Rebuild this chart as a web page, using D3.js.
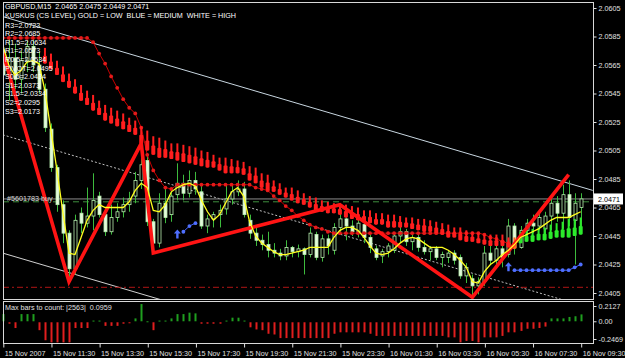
<!DOCTYPE html>
<html>
<head>
<meta charset="utf-8">
<script src="https://cdnjs.cloudflare.com/ajax/libs/d3/7.8.5/d3.min.js"></script>
<style>
html, body { margin: 0; padding: 0; background: #000; overflow: hidden; }
text { font-family: "Liberation Sans", Arial, sans-serif; white-space: pre; }
</style>
</head>
<body>
<div id="chart-area"></div>
<script>
// ---- data (bar index 0 = 15 Nov 09:30, M15) ----
const open = [2.0575,2.0558,2.0570,2.0555,2.0568,2.0578,2.0565,2.0548,2.0520,2.0493,2.0467,2.0447,2.0422,2.0461,2.0454,2.0459,2.0473,2.0460,2.0448,2.0458,
  2.0462,2.0467,2.0473,2.0484,2.0498,2.0455,2.0440,2.0468,2.0460,2.0474,2.0482,2.0475,2.0484,2.0476,2.0452,2.0457,2.0460,2.0464,2.0471,2.0476,
  2.0478,2.0456,2.0447,2.0442,2.0439,2.0435,2.0433,2.0431,2.0437,2.0434,2.0436,2.0432,2.0446,2.0430,2.0443,2.0435,2.0451,2.0457,2.0452,2.0448,
  2.0453,2.0444,2.0436,2.0431,2.0434,2.0435,2.0445,2.0448,2.0441,2.0444,2.0437,2.0434,2.0436,2.0430,2.0430,2.0433,2.0430,2.0417,2.0415,2.0410,
  2.0413,2.0433,2.0428,2.0436,2.0432,2.0452,2.0437,2.0449,2.0454,2.0452,2.0450,2.0459,2.0468,2.0461,2.0474,2.0456,2.0465]
const high = [2.0598,2.0585,2.0580,2.0575,2.0582,2.0585,2.0574,2.0552,2.0524,2.0495,2.0470,2.0449,2.0460,2.0465,2.0479,2.0489,2.0476,2.0463,2.0467,2.0468,
  2.0472,2.0476,2.0490,2.0510,2.0503,2.0457,2.0475,2.0479,2.0476,2.0496,2.0488,2.0491,2.0490,2.0480,2.0460,2.0462,2.0467,2.0481,2.0481,2.0484,
  2.0483,2.0460,2.0452,2.0446,2.0448,2.0440,2.0436,2.0442,2.0438,2.0439,2.0437,2.0451,2.0448,2.0446,2.0446,2.0454,2.0467,2.0458,2.0456,2.0458,
  2.0455,2.0446,2.0438,2.0436,2.0440,2.0447,2.0452,2.0450,2.0447,2.0446,2.0442,2.0438,2.0438,2.0434,2.0435,2.0435,2.0432,2.0426,2.0418,2.0416,
  2.0438,2.0440,2.0442,2.0438,2.0457,2.0454,2.0452,2.0457,2.0460,2.0462,2.0462,2.0472,2.0473,2.0481,2.0484,2.0475,2.0475]
const low = [2.0545,2.0540,2.0548,2.0545,2.0560,2.0560,2.0545,2.0518,2.0490,2.0462,2.0440,2.0413,2.0418,2.0447,2.0451,2.0449,2.0458,2.0445,2.0446,2.0455,
  2.0458,2.0462,2.0468,2.0478,2.0452,2.0433,2.0437,2.0454,2.0455,2.0470,2.0470,2.0472,2.0474,2.0450,2.0447,2.0451,2.0451,2.0460,2.0467,2.0473,
  2.0458,2.0443,2.0438,2.0435,2.0430,2.0430,2.0428,2.0428,2.0430,2.0430,2.0418,2.0430,2.0428,2.0427,2.0432,2.0432,2.0446,2.0442,2.0445,2.0444,
  2.0440,2.0433,2.0428,2.0426,2.0430,2.0433,2.0440,2.0438,2.0435,2.0434,2.0432,2.0428,2.0428,2.0423,2.0426,2.0425,2.0415,2.0412,2.0402,2.0404,
  2.0410,2.0425,2.0422,2.0423,2.0430,2.0432,2.0436,2.0444,2.0447,2.0449,2.0446,2.0449,2.0455,2.0450,2.0452,2.0425,2.0449]
const close = [2.0558,2.0570,2.0555,2.0568,2.0578,2.0565,2.0548,2.0521,2.0493,2.0467,2.0447,2.0422,2.0456,2.0454,2.0459,2.0470,2.0460,2.0448,2.0458,2.0462,
  2.0467,2.0471,2.0484,2.0495,2.0455,2.0440,2.0468,2.0458,2.0473,2.0482,2.0475,2.0484,2.0478,2.0452,2.0457,2.0460,2.0463,2.0471,2.0476,2.0478,
  2.0460,2.0447,2.0442,2.0439,2.0435,2.0433,2.0431,2.0437,2.0434,2.0436,2.0432,2.0447,2.0430,2.0443,2.0438,2.0451,2.0457,2.0452,2.0448,2.0454,
  2.0444,2.0437,2.0430,2.0434,2.0438,2.0445,2.0448,2.0441,2.0444,2.0437,2.0434,2.0436,2.0430,2.0432,2.0433,2.0428,2.0417,2.0423,2.0410,2.0413,
  2.0433,2.0428,2.0436,2.0430,2.0452,2.0437,2.0449,2.0454,2.0452,2.0458,2.0459,2.0468,2.0461,2.0474,2.0458,2.0468,2.0471]

// yellow moving average
const maValues = [2.0579,2.0565,2.0558,2.0561,2.0567,2.0568,2.0566,2.0547,2.0519,2.0491,2.0461,2.0433,2.0432,2.0444,2.0456,2.0463,2.0467,2.0465,2.0465,2.0465,
  2.0465,2.0469,2.0477,2.0482,2.0479,2.0463,2.0462,2.0467,2.0476,2.0479,2.0481,2.0482,2.0480,2.0470,2.0462,2.0456,2.0460,2.0468,2.0476,2.0479,
  2.0473,2.0455,2.0445,2.0440,2.0437,2.0434,2.0432,2.0432,2.0433,2.0434,2.0435,2.0437,2.0437,2.0437,2.0437,2.0444,2.0449,2.0451,2.0451,2.0449,
  2.0444,2.0438,2.0433,2.0432,2.0433,2.0436,2.0440,2.0443,2.0444,2.0443,2.0440,2.0437,2.0437,2.0437,2.0435,2.0432,2.0428,2.0423,2.0413,2.0412,
  2.0420,2.0425,2.0428,2.0432,2.0435,2.0439,2.0444,2.0446,2.0448,2.0450,2.0453,2.0456,2.0458,2.0458,2.0458,2.0460,2.0462]

// KUSKUS level bars (top / bottom), state dn / x / up
const kusTop = [null,null,null,null,null,null,null,2.0577,2.0573,2.0568,2.0564,2.0559,2.0555,2.0551,2.0547,2.0544,2.0540,2.0537,2.0535,2.0533,
  2.0531,2.0528,2.0526,2.0522,2.0519,2.0515,2.0514,2.0512,2.0510,2.0510,2.0509,2.0508,2.0507,2.0505,2.0504,2.0502,2.0500,2.0500,2.0499,2.0498,
  2.0497,2.0494,2.0493,2.0489,2.0488,2.0484,2.0482,2.0479,2.0479,2.0477,2.0475,2.0473,2.0472,2.0470,2.0469,2.0468,2.0468,2.0467,2.0466,2.0465,
  2.0463,2.0463,2.0461,2.0461,2.0460,2.0460,2.0459,2.0458,2.0458,2.0457,2.0457,2.0456,2.0455,2.0454,2.0453,2.0451,2.0451,2.0449,2.0448,2.0447,
  2.0446,2.0446,2.0446,2.0446,2.0444,2.0444,2.0448,2.0449,2.0450,2.0451,2.0451,2.0453,2.0454,2.0455,2.0457,2.0457,2.0458]
const kusBot = [null,null,null,null,null,null,null,2.0566,2.0562,2.0558,2.0553,2.0549,2.0545,2.0540,2.0537,2.0533,2.0530,2.0526,2.0524,2.0522,
  2.0520,2.0518,2.0516,2.0510,2.0505,2.0502,2.0500,2.0500,2.0499,2.0498,2.0497,2.0496,2.0495,2.0494,2.0493,2.0493,2.0491,2.0489,2.0489,2.0489,
  2.0488,2.0484,2.0482,2.0479,2.0477,2.0476,2.0474,2.0472,2.0470,2.0468,2.0467,2.0465,2.0463,2.0462,2.0461,2.0461,2.0460,2.0458,2.0457,2.0456,
  2.0455,2.0454,2.0453,2.0453,2.0451,2.0451,2.0451,2.0451,2.0450,2.0449,2.0448,2.0448,2.0447,2.0446,2.0444,2.0444,2.0442,2.0441,2.0441,2.0440,
  2.0439,2.0438,2.0438,2.0438,2.0437,2.0436,2.0440,2.0441,2.0441,2.0442,2.0442,2.0443,2.0444,2.0444,2.0444,2.0445,2.0446]
const kusState = d3.range(97).map(i => i < 85 ? "dn" : (i === 85 ? "x" : "up"))

// red trailing-stop dots and blue dots
const redStop = [2.0584,2.0584,2.0584,2.0584,2.0584,2.0584,2.0584,2.0584,2.0584,2.0584,2.0584,2.0584,2.0584,2.0584,2.0584,2.0581,2.0573,2.0566,2.0557,2.0549,
  2.0541,2.0535,2.0531,2.0521,2.0502,2.0491,2.0484,2.0479,2.0478,2.0481,2.0481,2.0481,2.0481,2.0481,2.0481,2.0481,2.0481,2.0481,2.0481,2.0481,
  2.0481,2.0481,2.0479,2.0478,2.0477,2.0473,2.0470,2.0466,2.0463,2.0459,2.0456,2.0453,2.0451,2.0450,2.0448,2.0447,2.0447,2.0447,2.0447,2.0447,
  2.0447,2.0447,2.0447,2.0447,2.0447,2.0447,2.0447,2.0447,2.0447,2.0447,2.0447,2.0447,2.0447,2.0447,2.0447,2.0447,2.0447,2.0447,2.0447,2.0447,
  2.0446,2.0444,2.0443,2.0441,2.0440]
const blueStopA = [[29, 2.0446], [30, 2.0448], [31, 2.0452], [32, 2.0454]]
const blueStopB = [[84, 2.0423], [85, 2.0421], [86, 2.0421], [87, 2.0421], [88, 2.0421], [89, 2.0421], [90, 2.0421],
  [91, 2.0421], [92, 2.0421], [93, 2.0421], [94, 2.0421], [95, 2.0423], [96, 2.0425]]

// zigzag and channel
const zigzag = [[0, 2.0574], [11, 2.0413], [23, 2.0510], [25, 2.0433], [56, 2.0467], [78, 2.0402], [94, 2.0488]]
const channelTop = [[0, 2.0599], [98, 2.0477]]
const channelMid = [[0, 2.0516], [98, 2.0394]]
const channelBot = [[0, 2.0433], [98, 2.0311]]
const bidPrice = 2.0471
const orderPrice = 2.0469
const stopPrice = 2.0409

// sub window histogram
const subVals = [0.10,-0.02,-0.08,0.10,0.10,0.10,-0.11,-0.25,-0.28,-0.28,-0.28,-0.28,-0.08,-0.08,-0.08,0.01,0.01,-0.05,-0.05,-0.05,
  -0.02,-0.01,0.04,0.24,0,-0.11,0.01,0.01,0.04,0.10,0.10,0.12,0.11,-0.02,-0.02,-0.02,-0.02,0.01,0.05,0.05,
  0.01,-0.07,-0.10,-0.11,-0.16,-0.17,-0.22,-0.22,-0.22,-0.22,-0.22,-0.22,-0.22,-0.22,-0.22,-0.16,-0.14,-0.14,-0.14,-0.14,
  -0.14,-0.16,-0.19,-0.19,-0.19,-0.19,-0.19,-0.19,-0.19,-0.19,-0.19,-0.19,-0.19,-0.19,-0.21,-0.21,-0.28,-0.26,-0.26,-0.28,
  -0.21,-0.21,-0.21,-0.19,-0.14,-0.14,-0.12,-0.09,-0.09,-0.08,-0.06,0.04,0.04,0.04,0.06,0.07,0.0959]

// axes and labels
const priceTicks = [2.0605, 2.0585, 2.0565, 2.0545, 2.0525, 2.0505, 2.0485, 2.0465, 2.0445, 2.0425, 2.0405]
const subTicks = [0.2127, 0, -0.2469]
const timeLabels = ["15 Nov 2007", "15 Nov 11:30", "15 Nov 13:30", "15 Nov 15:30", "15 Nov 17:30", "15 Nov 19:30", "15 Nov 21:30",
  "15 Nov 23:30", "16 Nov 01:30", "16 Nov 03:30", "16 Nov 05:30", "16 Nov 07:30", "16 Nov 09:30"]
const pivotNames = ["R3", "R2", "R1.5", "R1", "R0.5", "PIVOT", "S0.5", "S1", "S1.5", "S2", "S3"]
const pivotValues = ["2.0723", "2.0685", "2.0634", "2.0573", "2.0534", "2.0495", "2.0434", "2.0373", "2.0334", "2.0295", "2.0173"]
const titleText = "GBPUSD,M15  2.0465 2.0475 2.0449 2.0471"
const legendText = "KUSKUS (CS LEVEL) GOLD = LOW  BLUE = MEDIUM  WHITE = HIGH"
const subTitle = "Max bars to count: |2563|  0.0959"
const orderText = "#5601783 buy"

// ---- layout ----
const WIDTH = 625, HEIGHT = 358
const PLOT = { LEFT: 3, RIGHT: 593, TOP: 2, BOTTOM: 299 }
const SUB = { TOP: 301, BOTTOM: 343 }
const FONT = 7.2

const svg = d3.select("#chart-area").append("svg")
  .attr("width", WIDTH)
  .attr("height", HEIGHT)

svg.append("rect").attr("width", WIDTH).attr("height", HEIGHT).attr("fill", "#000")

// Scales
const x = d3.scaleLinear().domain([0, 96]).range([2.8, 580.7])
const y = d3.scaleLinear().domain([2.0405, 2.0605]).range([293, 8])
const ySub = d3.scaleLinear().domain([-0.2469, 0.2127]).range([339, 306])

svg.append("clipPath").attr("id", "clipMain")
  .append("rect")
  .attr("x", PLOT.LEFT).attr("y", PLOT.TOP)
  .attr("width", PLOT.RIGHT - PLOT.LEFT).attr("height", PLOT.BOTTOM - PLOT.TOP)

const g = svg.append("g").attr("clip-path", "url(#clipMain)")

// channel lines
const pline = d3.line().x(d => x(d[0])).y(d => y(d[1]))
g.append("path").attr("d", pline(channelTop)).attr("fill", "none")
  .attr("stroke", "#c8d6e0").attr("stroke-width", 1)
g.append("path").attr("d", pline(channelBot)).attr("fill", "none")
  .attr("stroke", "#d0d0d0").attr("stroke-width", 1)
g.append("path").attr("d", pline(channelMid)).attr("fill", "none")
  .attr("stroke", "#c0c0c0").attr("stroke-width", 1).attr("stroke-dasharray", "2,2")

// horizontal lines
g.append("line").attr("x1", PLOT.LEFT).attr("x2", PLOT.RIGHT)
  .attr("y1", y(bidPrice)).attr("y2", y(bidPrice))
  .attr("stroke", "#8c8c8c").attr("stroke-width", 1)
g.append("line").attr("x1", PLOT.LEFT).attr("x2", PLOT.RIGHT)
  .attr("y1", y(orderPrice)).attr("y2", y(orderPrice))
  .attr("stroke", "#3f8f3f").attr("stroke-width", 1).attr("stroke-dasharray", "6,4")
g.append("line").attr("x1", PLOT.LEFT).attr("x2", PLOT.RIGHT)
  .attr("y1", y(stopPrice)).attr("y2", y(stopPrice))
  .attr("stroke", "#b01515").attr("stroke-width", 1).attr("stroke-dasharray", "6,3,2,3")

// candles
const bars = d3.range(open.length).map(i => ({ i, o: open[i], h: high[i], l: low[i], c: close[i] }))
const candle = g.append("g").selectAll("g").data(bars).enter().append("g")
candle.append("line")
  .attr("x1", d => Math.round(x(d.i)) + 0.5).attr("x2", d => Math.round(x(d.i)) + 0.5)
  .attr("y1", d => y(d.h)).attr("y2", d => y(d.l))
  .attr("stroke", "#3dbb3d").attr("stroke-width", 1)
candle.append("rect")
  .attr("x", d => Math.round(x(d.i)) - 1)
  .attr("y", d => y(Math.max(d.o, d.c)))
  .attr("width", 3)
  .attr("height", d => Math.max(1, Math.abs(y(d.o) - y(d.c))))
  .attr("fill", d => d.c >= d.o ? "#000" : "#e4f8dc")
  .attr("stroke", "#b8eeb0").attr("stroke-width", 0.8)

// pivot text
svg.append("text").attr("x", 5).attr("y", 9).attr("fill", "#fff").attr("font-size", FONT).text(titleText)
svg.append("text").attr("x", 5).attr("y", 18).attr("fill", "#fff").attr("font-size", FONT).text(legendText)
svg.append("g").selectAll("text").data(pivotNames).enter().append("text")
  .attr("x", 5)
  .attr("y", (d, k) => 27.5 + k * 8.6)
  .attr("fill", "#fff").attr("font-size", FONT)
  .text((d, k) => d + "=" + pivotValues[k])

// red stop line
const stopPts = redStop.map((v, i) => [i, v])
g.append("path").attr("d", pline(stopPts)).attr("fill", "none")
  .attr("stroke", "#c80000").attr("stroke-width", 1)
g.append("g").selectAll("circle").data(stopPts).enter().append("circle")
  .attr("cx", d => x(d[0])).attr("cy", d => y(d[1])).attr("r", 1.9)
  .attr("fill", "#e51a1a")

// kuskus thermometers
const kus = d3.range(kusTop.length).filter(i => kusTop[i] !== null)
  .map(i => ({ i, t: kusTop[i], b: kusBot[i], s: kusState[i] }))
const kusColor = { dn: "#ff1e1e", x: "#ff6a1a", up: "#2bea2b" }
const therm = g.append("g").selectAll("g").data(kus).enter().append("g")
therm.append("rect")
  .attr("x", d => x(d.i) - 1).attr("y", d => y(d.t))
  .attr("width", 2).attr("height", d => y(d.b) - y(d.t))
  .attr("fill", d => kusColor[d.s])
therm.append("rect")
  .attr("x", d => x(d.i) - 2).attr("y", d => y(d.b) - (y(d.b) - y(d.t)) * 0.5)
  .attr("width", 4).attr("height", d => (y(d.b) - y(d.t)) * 0.5)
  .attr("rx", 1)
  .attr("fill", d => kusColor[d.s])

// blue dots with arrow at first point
function blueRun(pts) {
  g.append("path").attr("d", pline(pts.slice(1))).attr("fill", "none")
    .attr("stroke", "#4666ff").attr("stroke-width", 1)
  g.append("g").selectAll("circle").data(pts.slice(1)).enter().append("circle")
    .attr("cx", d => x(d[0])).attr("cy", d => y(d[1])).attr("r", 1.9)
    .attr("fill", "#4f6fff")
  const ax = x(pts[0][0]), ay = y(pts[0][1])
  g.append("path")
    .attr("d", `M${ax},${ay - 5}L${ax + 3.5},${ay - 1}L${ax + 1.2},${ay - 1}L${ax + 1.2},${ay + 4}` +
      `L${ax - 1.2},${ay + 4}L${ax - 1.2},${ay - 1}L${ax - 3.5},${ay - 1}Z`)
    .attr("fill", "#4f6fff")
}
blueRun(blueStopA)
blueRun(blueStopB)

// zigzag
g.append("path").attr("d", pline(zigzag)).attr("fill", "none")
  .attr("stroke", "#ff1414").attr("stroke-width", 3.6).attr("stroke-linejoin", "miter")

// yellow MA
g.append("path").attr("d", pline(maValues.map((v, i) => [i, v]))).attr("fill", "none")
  .attr("stroke", "#ffff1e").attr("stroke-width", 1.3)

// order label
g.append("text").attr("x", 7).attr("y", y(orderPrice) - 1)
  .attr("fill", "#d8d8d8").attr("font-size", FONT).text(orderText)

// sub window bars
svg.append("g").selectAll("rect").data(subVals).enter().append("rect")
  .attr("x", (d, i) => Math.round(x(i)) - 0.5)
  .attr("y", d => d >= 0 ? ySub(d) : ySub(0) + 1)
  .attr("width", 2)
  .attr("height", d => Math.max(1, Math.abs(ySub(d) - ySub(0))))
  .attr("fill", d => d >= 0 ? "#1f9e1f" : "#e01e1e")
svg.append("text").attr("x", 5).attr("y", 310).attr("fill", "#e0e0e0").attr("font-size", FONT).text(subTitle)

// frames
svg.append("rect").attr("x", PLOT.LEFT + 0.5).attr("y", PLOT.TOP + 0.5)
  .attr("width", PLOT.RIGHT - PLOT.LEFT).attr("height", PLOT.BOTTOM - PLOT.TOP)
  .attr("fill", "none").attr("stroke", "#d8d8d8")
svg.append("rect").attr("x", PLOT.LEFT + 0.5).attr("y", SUB.TOP + 0.5)
  .attr("width", PLOT.RIGHT - PLOT.LEFT).attr("height", SUB.BOTTOM - SUB.TOP)
  .attr("fill", "none").attr("stroke", "#d8d8d8")

// Y axis (price)
const yAxisCall = d3.axisRight(y).tickValues(priceTicks).tickSize(3).tickPadding(2).tickFormat(d3.format(".4f"))
const yAxis = svg.append("g").attr("transform", `translate(${PLOT.RIGHT + 0.5}, 0)`).call(yAxisCall)
yAxis.select(".domain").remove()
yAxis.attr("color", "#e0e0e0").selectAll(".tick text")
  .attr("font-size", FONT).attr("font-family", "Liberation Sans, Arial, sans-serif")

// price box
svg.append("rect").attr("x", PLOT.RIGHT + 1).attr("y", y(bidPrice) - 5.5)
  .attr("width", 29).attr("height", 11).attr("fill", "#fff")
svg.append("text").attr("x", PLOT.RIGHT + 5).attr("y", y(bidPrice) + 2.6)
  .attr("fill", "#000").attr("font-size", FONT).text(bidPrice.toFixed(4))

// sub axis
const subAxisCall = d3.axisRight(ySub).tickValues(subTicks).tickSize(3).tickPadding(2)
  .tickFormat(d => d === 0 ? "0.00" : d.toFixed(4))
const subAxis = svg.append("g").attr("transform", `translate(${PLOT.RIGHT + 0.5}, 0)`).call(subAxisCall)
subAxis.select(".domain").remove()
subAxis.attr("color", "#e0e0e0").selectAll(".tick text")
  .attr("font-size", FONT).attr("font-family", "Liberation Sans, Arial, sans-serif")

// X axis (time)
const xAxisCall = d3.axisBottom(x).tickValues(timeLabels.map((d, k) => k * 8))
  .tickSize(4).tickPadding(3).tickFormat((d, k) => timeLabels[k])
const xAxis = svg.append("g").attr("transform", `translate(0.5, ${SUB.BOTTOM + 0.5})`).call(xAxisCall)
xAxis.select(".domain").remove()
xAxis.attr("color", "#e0e0e0").selectAll(".tick text")
  .attr("font-size", FONT).attr("font-family", "Liberation Sans, Arial, sans-serif")
  .attr("text-anchor", "start").attr("x", 1)
</script>
</body>
</html>
